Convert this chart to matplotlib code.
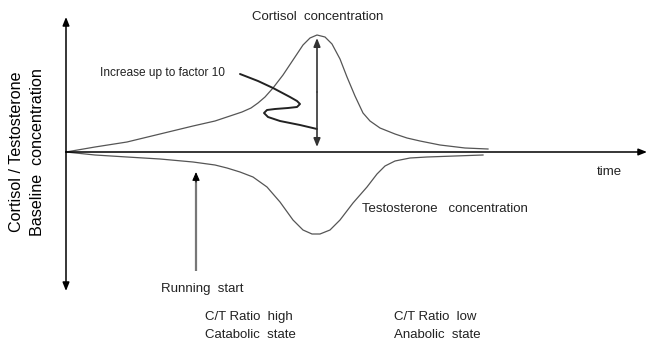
import matplotlib
matplotlib.use("Agg")
import matplotlib.pyplot as plt

plt.rcParams['font.family'] = ['Liberation Sans', 'DejaVu Sans']

# Schematic curves (x = time position, y = vertical position, image-like units)
cortisol_x = [66, 95, 127, 160, 193, 215, 230, 242, 251, 258, 265, 273, 283, 293, 303, 310, 317,
              325, 332, 340, 347, 355, 363, 370, 380, 395, 407, 420, 440, 465, 488]
cortisol_y = [152, 147, 142, 134, 126, 121, 116, 112, 108, 103, 97, 88, 75, 60, 45, 38, 35,
              37, 44, 59, 77, 96, 113, 121, 128, 134, 138, 141, 145, 148, 149]

testo_x = [66, 95, 127, 160, 193, 215, 227, 240, 253, 267, 280, 293, 303, 312, 320, 330, 340,
           353, 367, 377, 385, 395, 410, 427, 455, 483]
testo_y = [152, 155, 157, 159, 162, 165, 168, 172, 177, 187, 202, 220, 230, 234, 234, 230, 220,
           203, 187, 174, 166, 161, 158, 157, 156, 155]

squiggle_x = [240, 258, 273, 290, 297, 300, 297, 288, 275, 267, 264, 268, 280, 300, 317]
squiggle_y = [74, 81, 88, 97, 101, 104, 107, 108, 109, 110, 113, 117, 121, 125, 129]

fig = plt.figure(figsize=(6.56, 3.53), dpi=100)
ax = fig.add_axes([0, 0, 1, 1])
ax.set_xlim(0, 656)
ax.set_ylim(353, 0)
ax.axis('off')

# axes arrows
arrow_k = dict(arrowstyle='-|>,head_length=0.5,head_width=0.2', color='black', lw=1.1,
               shrinkA=0, shrinkB=0)
ax.annotate('', xy=(66, 17), xytext=(66, 152), arrowprops=arrow_k)
ax.annotate('', xy=(66, 291), xytext=(66, 152), arrowprops=arrow_k)
ax.annotate('', xy=(647, 152), xytext=(66, 152), arrowprops=arrow_k)

# curves
ax.plot(cortisol_x, cortisol_y, color='#555555', lw=0.9, solid_joinstyle='round')
ax.plot(testo_x, testo_y, color='#555555', lw=0.9, solid_joinstyle='round')
ax.plot(squiggle_x, squiggle_y, color='#222222', lw=1.4, solid_capstyle='round',
        solid_joinstyle='round')

# double arrow at peak
arrow_d = dict(arrowstyle='-|>,head_length=0.5,head_width=0.2', color='#333333', lw=1.2,
               shrinkA=0, shrinkB=0)
ax.annotate('', xy=(317, 38), xytext=(317, 92), arrowprops=arrow_d)
ax.annotate('', xy=(317, 147), xytext=(317, 92), arrowprops=arrow_d)

# running start arrow: grey shaft, dark head
ax.plot([196, 196], [271, 180], color='#777777', lw=1.6, solid_capstyle='butt')
ax.annotate('', xy=(196, 172), xytext=(196, 182),
            arrowprops=dict(arrowstyle='-|>,head_length=0.5,head_width=0.22', color='black',
                            lw=0.8, shrinkA=0, shrinkB=0))

# texts
tc = '#222222'
ax.text(318, 17, 'Cortisol  concentration', ha='center', va='center', fontsize=9.5, color=tc)
ax.text(100, 73, 'Increase up to factor 10', ha='left', va='center', fontsize=8.6, color=tc)
ax.text(609, 172, 'time', ha='center', va='center', fontsize=9.5, color=tc)
ax.text(362, 209, 'Testosterone   concentration', ha='left', va='center', fontsize=9.5, color=tc)
ax.text(202, 289, 'Running  start', ha='center', va='center', fontsize=9.5, color=tc)
ax.text(205, 317, 'C/T Ratio  high', ha='left', va='center', fontsize=9.5, color=tc)
ax.text(205, 335, 'Catabolic  state', ha='left', va='center', fontsize=9.5, color=tc)
ax.text(394, 317, 'C/T Ratio  low', ha='left', va='center', fontsize=9.5, color=tc)
ax.text(394, 335, 'Anabolic  state', ha='left', va='center', fontsize=9.5, color=tc)
ax.text(17, 152, 'Cortisol / Testosterone', ha='center', va='center',
        rotation=90, fontsize=11.6, color='black')
ax.text(38, 152, 'Baseline  concentration', ha='center', va='center',
        rotation=90, fontsize=11.6, color='black')

fig.savefig('out.png', dpi=100)
